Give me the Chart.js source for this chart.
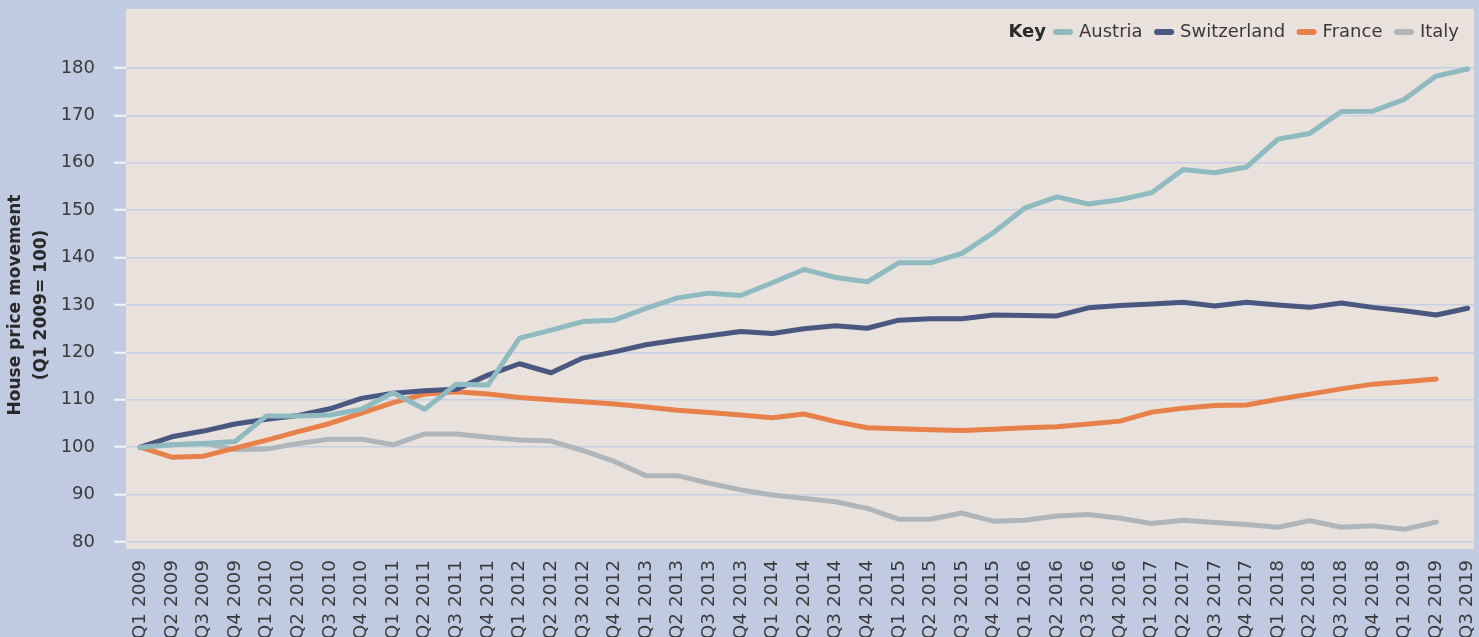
<!DOCTYPE html>
<html>
<head>
<meta charset="utf-8">
<script src="https://cdn.jsdelivr.net/npm/chart.js@4"></script>
<style>
  html, body { margin: 0; padding: 0; background: #c0cbe1; overflow: hidden; }
  #wrap { width: 1479px; height: 637px; }
</style>
</head>
<body>
<div id="wrap"><canvas id="chart" width="1479" height="637"></canvas></div>
<script>
const QUARTERS = [
  "Q1 2009", "Q2 2009", "Q3 2009", "Q4 2009",
  "Q1 2010", "Q2 2010", "Q3 2010", "Q4 2010",
  "Q1 2011", "Q2 2011", "Q3 2011", "Q4 2011",
  "Q1 2012", "Q2 2012", "Q3 2012", "Q4 2012",
  "Q1 2013", "Q2 2013", "Q3 2013", "Q4 2013",
  "Q1 2014", "Q2 2014", "Q3 2014", "Q4 2014",
  "Q1 2015", "Q2 2015", "Q3 2015", "Q4 2015",
  "Q1 2016", "Q2 2016", "Q3 2016", "Q4 2016",
  "Q1 2017", "Q2 2017", "Q3 2017", "Q4 2017",
  "Q1 2018", "Q2 2018", "Q3 2018", "Q4 2018",
  "Q1 2019", "Q2 2019", "Q3 2019"
];
const Y_TICKS = [80, 90, 100, 110, 120, 130, 140, 150, 160, 170, 180];

const AUSTRIA = [100, 100.5, 100.8, 101.2, 106.6, 106.6, 106.8, 108, 111.5, 108, 113.3, 113.1,
  123, 124.7, 126.5, 126.8, 129.3, 131.5, 132.5, 132, 134.7, 137.5, 135.8, 134.9,
  138.9, 138.9, 140.9, 145.3, 150.5, 152.8, 151.3, 152.2, 153.7, 158.6, 157.9, 159.1,
  165, 166.2, 170.8, 170.9, 173.4, 178.3, 179.8];
const SWITZERLAND = [100, 102.2, 103.4, 104.9, 105.9, 106.7, 108.1, 110.3, 111.4, 111.9, 112.2, 115.2,
  117.6, 115.7, 118.8, 120.1, 121.6, 122.6, 123.5, 124.4, 124.0, 125, 125.6, 125.1,
  126.8, 127.1, 127.1, 127.9, 127.8, 127.7, 129.4, 129.9, 130.2, 130.6, 129.8, 130.6,
  130, 129.5, 130.4, 129.5, 128.8, 127.9, 129.3];
const FRANCE = [100, 97.9, 98.1, 99.8, 101.5, 103.3, 105.0, 107.2, 109.4, 111.2, 111.7, 111.2,
  110.5, 110, 109.6, 109.1, 108.5, 107.8, 107.3, 106.8, 106.2, 107, 105.4, 104.1,
  103.9, 103.7, 103.5, 103.8, 104.1, 104.3, 104.9, 105.5, 107.4, 108.2, 108.8, 108.9,
  110.1, 111.2, 112.3, 113.3, 113.8, 114.4];
const ITALY = [100, 100.5, 100.8, 99.5, 99.6, 100.8, 101.7, 101.7, 100.5, 102.8, 102.8, 102.1,
  101.5, 101.3, 99.3, 97, 94, 94, 92.4, 91, 89.9, 89.2, 88.5, 87.1,
  84.8, 84.8, 86.1, 84.4, 84.6, 85.5, 85.8, 85.0, 83.9, 84.6, 84.1, 83.7,
  83.1, 84.5, 83.1, 83.4, 82.7, 84.2];

const SERIES_NAMES = ["Austria", "Switzerland", "France", "Italy"];
const SERIES_VALUES = [AUSTRIA, SWITZERLAND, FRANCE, ITALY];
const SERIES_COLORS = ["#8fbbc0", "#4a5780", "#e8804a", "#aeb6bc"];

const FONT = "'DejaVu Sans', sans-serif";
const TEXT_COLOR = "#3a3a3a";

// beige plot background
const plotBackground = {
  id: "plotBackground",
  beforeDraw(chart) {
    const { ctx, chartArea: a } = chart;
    ctx.save();
    ctx.fillStyle = "#e8e1dc";
    ctx.fillRect(a.left, a.top, a.right - a.left, a.bottom - a.top);
    ctx.restore();
  }
};

// two-line axis title, centred on the tick range
const yTitle = {
  id: "yTitle",
  afterDraw(chart) {
    const { ctx } = chart;
    const y = chart.scales.y;
    const mid = (y.getPixelForValue(Y_TICKS[0]) + y.getPixelForValue(Y_TICKS[Y_TICKS.length - 1])) / 2;
    ctx.save();
    ctx.fillStyle = "#2a2a2a";
    ctx.font = "bold 17px " + FONT;
    ctx.textAlign = "center";
    ctx.textBaseline = "middle";
    ctx.translate(16, mid);
    ctx.rotate(-Math.PI / 2);
    ctx.fillText("House price movement", 0, 0);
    ctx.fillText("(Q1 2009= 100)", 0, 26);
    ctx.restore();
  }
};

// "Key" legend across the top right of the plot
const keyLegend = {
  id: "keyLegend",
  afterDraw(chart) {
    const { ctx, chartArea: a } = chart;
    const swatch = 20, gapText = 6, gapItem = 11.5, gapKey = 7;
    ctx.save();
    ctx.textBaseline = "middle";
    ctx.font = "18px " + FONT;
    let total = 0;
    SERIES_NAMES.forEach((n, i) => {
      total += swatch + gapText + ctx.measureText(n).width + (i < SERIES_NAMES.length - 1 ? gapItem : 0);
    });
    ctx.font = "bold 18px " + FONT;
    const keyW = ctx.measureText("Key").width;
    total += keyW + gapKey;
    let x = a.right - 15 - total;
    const yc = a.top + 23;
    ctx.fillStyle = "#2a2a2a";
    ctx.fillText("Key", x, yc);
    x += keyW + gapKey;
    ctx.font = "18px " + FONT;
    SERIES_NAMES.forEach((n, i) => {
      ctx.strokeStyle = SERIES_COLORS[i];
      ctx.lineWidth = 6;
      ctx.lineCap = "round";
      ctx.beginPath();
      ctx.moveTo(x + 3, yc);
      ctx.lineTo(x + swatch - 3, yc);
      ctx.stroke();
      x += swatch + gapText;
      ctx.fillStyle = TEXT_COLOR;
      ctx.fillText(n, x, yc);
      x += ctx.measureText(n).width + gapItem;
    });
    ctx.restore();
  }
};

const datasets = SERIES_NAMES.map((name, i) => ({
  label: name,
  data: SERIES_VALUES[i].map((v, j) => ({ x: j, y: v })),
  borderColor: SERIES_COLORS[i],
  backgroundColor: SERIES_COLORS[i],
  borderWidth: 5,
  borderCapStyle: "round",
  borderJoinStyle: "round",
  pointRadius: 0,
  tension: 0
}));

new Chart(document.getElementById("chart").getContext("2d"), {
  type: "line",
  data: { datasets: datasets },
  plugins: [plotBackground, yTitle, keyLegend],
  options: {
    responsive: false,
    devicePixelRatio: 1,
    animation: false,
    layout: { padding: { top: 9, right: 5, left: 0, bottom: 0 } },
    plugins: {
      legend: { display: false },
      tooltip: { enabled: false }
    },
    scales: {
      x: {
        type: "linear",
        min: -0.45,
        max: 42.2,
        afterBuildTicks: (scale) => { scale.ticks = QUARTERS.map((q, i) => ({ value: i })); },
        afterFit: (scale) => { scale.height = 88; scale.paddingLeft = 0; scale.paddingRight = 0; },
        grid: { display: false },
        border: { display: false },
        ticks: {
          autoSkip: false,
          minRotation: 90,
          maxRotation: 90,
          padding: 3,
          color: TEXT_COLOR,
          font: { family: FONT, size: 18.5 },
          callback: (v) => QUARTERS[v]
        }
      },
      y: {
        min: 78.52,
        max: 192.45,
        afterBuildTicks: (scale) => { scale.ticks = Y_TICKS.map((v) => ({ value: v })); },
        afterFit: (scale) => { scale.width = 126; scale.paddingTop = 0; scale.paddingBottom = 0; },
        border: { display: false },
        grid: {
          color: "#c6cfe3",
          lineWidth: 1.5,
          tickLength: 12,
          tickColor: "#f4f4f6",
          tickWidth: 2
        },
        ticks: {
          padding: 19,
          color: TEXT_COLOR,
          font: { family: FONT, size: 18 }
        }
      }
    }
  }
});
</script>
</body>
</html>
